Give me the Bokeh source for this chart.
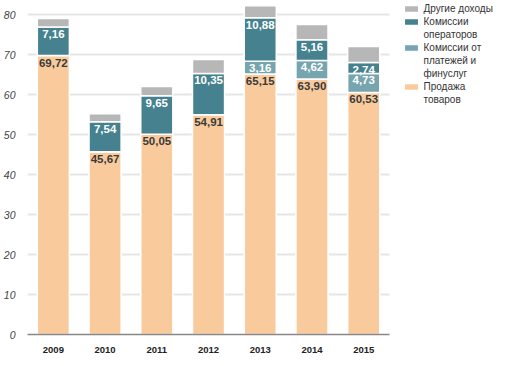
from bokeh.plotting import figure
from bokeh.models import ColumnDataSource, Legend, LegendItem, Range1d, FixedTicker
from bokeh.core.properties import value
from bokeh.embed import file_html
from bokeh.resources import INLINE

years = ["2009", "2010", "2011", "2012", "2013", "2014", "2015"]
sales = [69.72, 45.67, 50.05, 54.91, 65.15, 63.90, 60.53]
payments = [0.0, 0.0, 0.0, 0.0, 3.16, 4.62, 4.73]
operators = [7.16, 7.54, 9.65, 10.35, 10.88, 5.16, 2.74]
other = [2.1, 2.0, 2.3, 3.5, 3.0, 3.8, 4.0]

stack_keys = ["sales", "payments", "operators", "other"]
colors = ["#F9CB9C", "#76A5AF", "#45818E", "#B7B7B7"]
legend_lines = {
    "other": ["Другие доходы"],
    "operators": ["Комиссии", "операторов"],
    "payments": ["Комиссии от", "платежей и", "финуслуг"],
    "sales": ["Продажа", "товаров"],
}
y_ticks = [0, 10, 20, 30, 40, 50, 60, 70, 80]

FONT = "Liberation Sans"
W, H = 493, 356
BL, BR, BT, BB = 20, 0, 0, 22
CAT = 52.5  # pixels per category
frame_w = W - BL - BR
frame_h = H - BT - BB
n = len(years)
xs = list(range(n))

def fmt(v):
    return f"{v:.2f}".replace(".", ",")

src = ColumnDataSource(dict(x=xs, sales=sales, payments=payments,
                            operators=operators, other=other))

p = figure(x_range=Range1d(-0.5, -0.5 + frame_w / CAT), y_range=Range1d(0, 83.5),
           width=W, height=H, output_backend="svg", toolbar_location=None,
           min_border_left=BL, min_border_right=BR, min_border_top=BT, min_border_bottom=BB)

renderers = p.vbar_stack(stack_keys, x="x", width=0.62, color=colors,
                         line_color="white", line_width=1.5, source=src)

def label_source(vals, tops):
    lx, ly, lt = [], [], []
    for i, v, t in zip(xs, vals, tops):
        if v > 0:
            lx.append(i); ly.append(t); lt.append(fmt(v))
    return ColumnDataSource(dict(x=lx, y=ly, t=lt))

top_sales = sales
top_pay = [s + pa for s, pa in zip(sales, payments)]
top_op = [s + pa + o for s, pa, o in zip(sales, payments, operators)]

for vals, tops, col in [(sales, top_sales, "#3a3a3a"),
                        (payments, top_pay, "white"),
                        (operators, top_op, "white")]:
    ls = label_source(vals, tops)
    p.text(x="x", y="y", text="t", source=ls, text_align="center",
           text_baseline="top", y_offset=3, text_font=value(FONT),
           text_font_style="bold", text_font_size="11.5px", text_color=col)

rmap = dict(zip(stack_keys, renderers))
items = []
for k in ["other", "operators", "payments", "sales"]:
    lines = legend_lines[k]
    items.append(LegendItem(label=lines[0], renderers=[rmap[k]]))
    for ln in lines[1:]:
        items.append(LegendItem(label=ln, renderers=[]))

LH = 13
legend_h = LH * len(items)
legend = Legend(items=items, location=(n * CAT + 7, frame_h - legend_h - 2),
                border_line_color=None, background_fill_alpha=0,
                padding=0, margin=0, spacing=0,
                glyph_width=18, glyph_height=9, label_height=LH, label_width=40,
                label_text_font=FONT, label_text_font_size="10px",
                label_text_color="#333333", label_standoff=4)
p.add_layout(legend, "center")

p.xgrid.grid_line_color = None
p.ygrid.grid_line_color = "#E6E6E6"
p.ygrid.grid_line_width = 2
p.ygrid.cross_bounds = (-0.5, n - 0.5)
p.outline_line_color = None
p.yaxis.ticker = FixedTicker(ticks=y_ticks)
p.yaxis.axis_line_color = None
p.yaxis.major_tick_line_color = None
p.yaxis.minor_tick_line_color = None
p.yaxis.major_label_text_font = FONT
p.yaxis.major_label_text_font_style = "italic"
p.yaxis.major_label_text_font_size = "10.5px"
p.yaxis.major_label_text_color = "#444444"
p.yaxis.major_label_standoff = 6
p.xaxis.bounds = (-0.5, n - 0.5)
p.xaxis.ticker = FixedTicker(ticks=xs)
p.xaxis.major_label_overrides = {i: y for i, y in zip(xs, years)}
p.xaxis.axis_line_color = "#888888"
p.xaxis.axis_line_width = 1.5
p.xaxis.major_tick_line_color = None
p.xaxis.minor_tick_line_color = None
p.xaxis.major_label_text_font = FONT
p.xaxis.major_label_text_font_style = "bold"
p.xaxis.major_label_text_font_size = "9.5px"
p.xaxis.major_label_text_color = "#222222"
p.xaxis.major_label_standoff = 6

open("out.html", "w").write(file_html(p, INLINE))
